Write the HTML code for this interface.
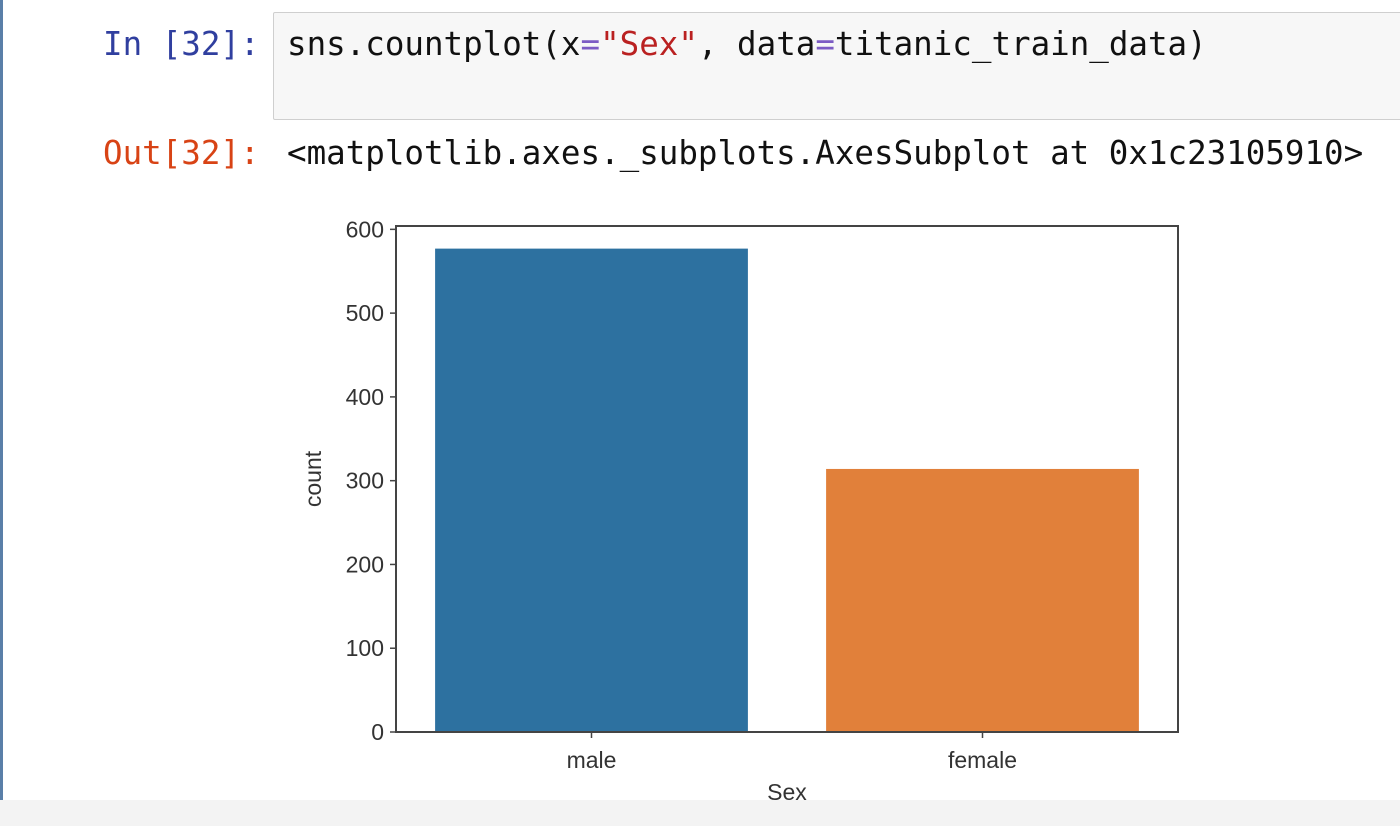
<!DOCTYPE html>
<html><head><meta charset="utf-8">
<style>
body{margin:0;width:1400px;height:826px;background:#fff;overflow:hidden;position:relative;font-family:"Liberation Sans",sans-serif}
.mono{font-family:"DejaVu Sans Mono","Liberation Mono",monospace;font-size:32.5px;position:absolute;white-space:pre}
</style></head><body>
<div style="position:absolute;left:0;top:0;width:3px;height:826px;background:#5a7fa8"></div>
<div class="mono" style="left:103px;top:25px;color:#303f9f">In [32]:</div>
<div style="position:absolute;left:273px;top:12px;width:1140px;height:106px;background:#f7f7f7;border:1px solid #cfcfcf;border-radius:2px"></div>
<div class="mono" style="left:287px;top:25px;color:#111">sns.countplot(x<span style="color:#7c5cc4">=</span><span style="color:#ba2121">"Sex"</span>, data<span style="color:#7c5cc4">=</span>titanic_train_data)</div>
<div class="mono" style="left:103px;top:134px;color:#d84315">Out[32]:</div>
<div class="mono" style="left:287px;top:134px;color:#111">&lt;matplotlib.axes._subplots.AxesSubplot at 0x1c23105910&gt;</div>
<div style="position:absolute;left:0;top:800px;width:1400px;height:26px;background:#f3f3f3"></div>
<svg id="chart" width="1400" height="826" style="position:absolute;left:0;top:0"></svg>
<script>
const categories=["male","female"];
const counts=[577,314];
const colors=["#2d71a0","#e1803a"];
const yTicks=[0,100,200,300,400,500,600];
const NS="http://www.w3.org/2000/svg";
const svg=document.getElementById('chart');
const L=396,R=1178,T=226,B=732,yMax=604;
const y=v=>B-(v/yMax)*(B-T);
const band=(R-L)/categories.length;
const xc=i=>L+band*(i+0.5);
function mk(t,a,txt){const e=document.createElementNS(NS,t);for(const k in a)e.setAttribute(k,a[k]);if(txt!==undefined)e.textContent=txt;svg.appendChild(e);return e;}
categories.forEach((c,i)=>{
 const w=band*0.8;
 const r=mk('rect',{x:xc(i)-w/2,y:y(counts[i]),width:w,height:B-y(counts[i]),fill:colors[i]});
 
 
 const tk=mk('line',{x1:xc(i),x2:xc(i),y1:B,y2:B+6,stroke:'#444','stroke-width':1.5});
 
 
 const t=mk('text',{x:xc(i),y:B+36,'text-anchor':'middle','font-size':23,fill:'#333','font-family':'Liberation Sans, sans-serif'},c);
 
 
});
yTicks.forEach(v=>{
 const tk=mk('line',{x1:L-6,x2:L,y1:y(v),y2:y(v),stroke:'#444','stroke-width':1.5});
 
 
 const t=mk('text',{x:L-12,y:y(v)+8,'text-anchor':'end','font-size':23,fill:'#333','font-family':'Liberation Sans, sans-serif'},v);
 
 
});
const fr=mk('rect',{x:L,y:T,width:R-L,height:B-T,fill:'none',stroke:'#444','stroke-width':2});


const xt=mk('text',{x:(L+R)/2,y:800,'text-anchor':'middle','font-size':23,fill:'#333','font-family':'Liberation Sans, sans-serif'},'Sex');


const yt=mk('text',{x:0,y:0,'text-anchor':'middle','font-size':23,fill:'#333','font-family':'Liberation Sans, sans-serif',transform:`translate(321,${(T+B)/2}) rotate(-90)`},'count');


</script>
</body></html>
